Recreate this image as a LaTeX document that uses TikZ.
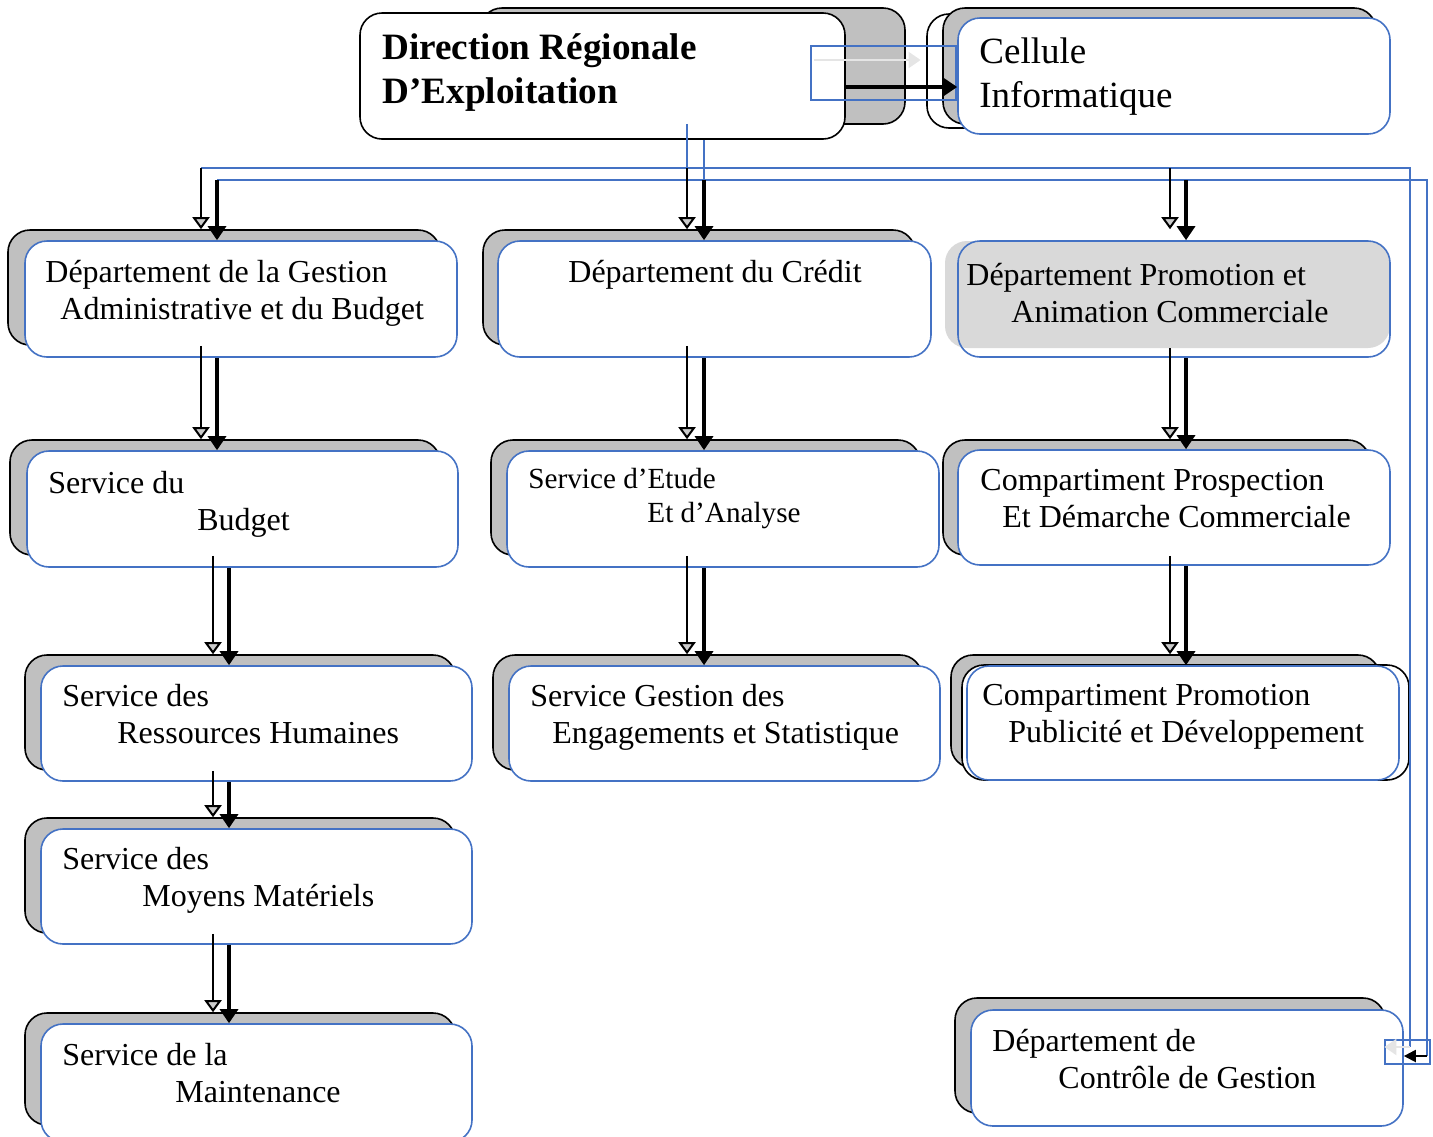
\documentclass[tikz,border=0pt]{standalone}
\usepackage{fontspec}
\setmainfont{Liberation Serif}
\usetikzlibrary{arrows.meta,fit}
\definecolor{boxblue}{HTML}{4472C4}
\definecolor{shadegray}{HTML}{C0C0C0}
\definecolor{fillgray}{HTML}{D9D9D9}

\begin{document}
\begin{tikzpicture}[x=0.5pt,y=-0.5pt,
    shbox/.style={draw,line width=0.8pt,fill=shadegray,rounded corners=11pt,inner sep=0pt},
    outbox/.style={draw,line width=0.8pt,fill=white,rounded corners=11pt,inner sep=0pt},
    frontbox/.style={draw=boxblue,line width=0.8pt,fill=white,rounded corners=11pt,inner sep=0pt},
    selbox/.style={draw=boxblue,line width=0.6pt,inner sep=0pt},
    txt/.style={anchor=north west,inner sep=0pt,align=left,font=\fontsize{16}{18.5}\selectfont},
    thinarr/.style={line width=1pt,-{Triangle[width=8.5pt,length=6pt,fill=gray!40]}},
    thickarr/.style={line width=1.6pt,-{Triangle[width=9pt,length=7pt]}},
    faintarr/.style={draw=gray!20,line width=1pt,-{Triangle[width=8pt,length=6pt]}},
    blueline/.style={draw=boxblue,line width=0.6pt}]
  \useasboundingbox (0,0) rectangle (1433,1136);

  % direction et cellule
  \node[shbox, fit={(480,8) (905,124)}] (dre-s) {};
  \node[outbox, fit={(360,13) (845,139)}] (dre) {};
  \node[txt, font=\fontsize{18.6}{22}\selectfont\bfseries] (dre-t) at (382,33)
    {Direction Régionale\\D’Exploitation};
  \node[outbox, fit={(927,14) (1370,128)}] (ci-o) {};
  \node[shbox, fit={(943,8) (1376,124)}] (ci-s) {};
  \node[frontbox, fit={(958,18) (1390,134)}] (ci) {};
  \node[txt, font=\fontsize{18.5}{22}\selectfont] (ci-t) at (979,37) {Cellule\\Informatique};

  % departements
  \node[shbox, fit={(8,230) (440,345)}] (gab-s) {};
  \node[frontbox, fit={(25,241) (457,357)}] (gab) {};
  \node[txt] (gab-t) at (45,260) {Département de la Gestion\\\hspace*{7.5pt}Administrative et du Budget};
  \node[shbox, fit={(483,230) (915,345)}] (cred-s) {};
  \node[frontbox, fit={(498,241) (931,357)}] (cred) {};
  \node[txt] (cred-t) at (568,260) {Département du Crédit};
  \node[fill=fillgray, rounded corners=11pt, inner sep=0pt, fit={(945,241) (1390,348)}] (pac-g) {};
  \node[frontbox, fill=none, fit={(958,241) (1390,357)}] (pac) {};
  \node[txt] (pac-t) at (966,263) {Département Promotion et\\\hspace*{22.5pt}Animation Commerciale};

  % services, ligne 2
  \node[shbox, fit={(10,440) (440,555)}] (bud-s) {};
  \node[frontbox, fit={(27,451) (458,567)}] (bud) {};
  \node[txt] (bud-t) at (48,471) {Service du\\\hspace*{74.5pt}Budget};
  \node[shbox, fit={(491,440) (920,555)}] (etu-s) {};
  \node[frontbox, fit={(507,451) (939,567)}] (etu) {};
  \node[txt, font=\fontsize{14.6}{17}\selectfont] (etu-t) at (528,468) {Service d’Etude\\\hspace*{59.5pt}Et d’Analyse};
  \node[shbox, fit={(943,440) (1370,555)}] (pdc-s) {};
  \node[frontbox, fit={(958,450) (1390,565)}] (pdc) {};
  \node[txt] (pdc-t) at (980,469) {Compartiment Prospection\\\hspace*{11pt}Et Démarche Commerciale};

  % ligne 3
  \node[shbox, fit={(25,655) (455,770)}] (rh-s) {};
  \node[frontbox, fit={(41,666) (472,781)}] (rh) {};
  \node[txt] (rh-t) at (62,684) {Service des\\\hspace*{27.5pt}Ressources Humaines};
  \node[shbox, fit={(493,655) (922,770)}] (ges-s) {};
  \node[frontbox, fit={(509,666) (940,781)}] (ges) {};
  \node[txt] (ges-t) at (530,684) {Service Gestion des\\\hspace*{11pt}Engagements et Statistique};
  \node[shbox, fit={(951,655) (1380,768)}] (ppd-s) {};
  \node[outbox, fit={(962,665) (1409,780)}] (ppd-o) {};
  \node[frontbox, fit={(967,666) (1399,780)}] (ppd) {};
  \node[txt] (ppd-t) at (982,684) {Compartiment Promotion\\\hspace*{13pt}Publicité et Développement};

  % lignes 4 et 5
  \node[shbox, fit={(25,818) (455,933)}] (mm-s) {};
  \node[frontbox, fit={(41,829) (472,944)}] (mm) {};
  \node[txt] (mm-t) at (62,847) {Service des\\\hspace*{40pt}Moyens Matériels};
  \node[shbox, fit={(25,1013) (455,1125)}] (mnt-s) {};
  \node[frontbox, fit={(41,1024) (472,1142)}] (mnt) {};
  \node[txt] (mnt-t) at (62,1043) {Service de la\\\hspace*{56.5pt}Maintenance};
  \node[shbox, fit={(955,998) (1385,1113)}] (cdg-s) {};
  \node[frontbox, fit={(971,1010) (1403,1126)}] (cdg) {};
  \node[txt] (cdg-t) at (992,1029) {Département de\\\hspace*{33pt}Contrôle de Gestion};

  % colonnes et bus
  \coordinate (a1) at (201,0);  \coordinate (a2) at (217,0);
  \coordinate (a3) at (213,0);  \coordinate (a4) at (229,0);
  \coordinate (b1) at (687,0);  \coordinate (b2) at (704,0);
  \coordinate (c1) at (1170,0); \coordinate (c2) at (1186,0);
  \coordinate (r1) at (1410,0); \coordinate (r2) at (1427,0);
  \coordinate (bus1) at (0,168); \coordinate (bus2) at (0,180);
  \coordinate (cdgin) at (0,1056); \coordinate (cdgfaint) at (0,1047);
  \coordinate (ciin) at (0,87);

  \node[selbox, fit={(811,46) (956,100)}] (cisel) {};
  \node[selbox, fit={(1385,1040) (1430,1064)}] (cdgsel) {};

  \draw[blueline] ([yshift=8pt]b1 |- dre.south) -- (b1 |- bus1);
  \draw[blueline] (b2 |- dre.south) -- (b2 |- bus2);
  \draw[blueline] (a1 |- bus1) -- (r1 |- bus1) -- (r1 |- cdgfaint);
  \draw[blueline] (a2 |- bus2) -- (r2 |- bus2) -- (r2 |- cdgin);

  \draw[faintarr] ([shift={(2pt,6.5pt)}]cisel.west) -- ([shift={(-18pt,6.5pt)}]cisel.east);
  \draw[thickarr] (dre.east |- ciin) -- (ci.west |- ciin);
  \draw[faintarr] (r1 |- cdgfaint) -- (cdgsel.west |- cdgfaint);
  \draw[line width=1pt,-{Triangle[width=6pt,length=6pt]}] (r2 |- cdgin) -- (cdg.east |- cdgin);

  % fleches vers les departements
  \draw[thinarr] (a1 |- bus1) -- (a1 |- gab-s.north);
  \draw[thickarr] (a2 |- bus2) -- (a2 |- gab.north);
  \draw[thinarr] (b1 |- bus1) -- (b1 |- cred-s.north);
  \draw[thickarr] (b2 |- bus2) -- (b2 |- cred.north);
  \draw[thinarr] (c1 |- bus1) -- ([yshift=5.5pt]c1 |- pac.north);
  \draw[thickarr] (c2 |- bus2) -- (c2 |- pac.north);

  % ligne 1 vers ligne 2
  \draw[thinarr] (a1 |- gab-s.south) -- (a1 |- bud-s.north);
  \draw[thickarr] (a2 |- gab.south) -- (a2 |- bud.north);
  \draw[thinarr] (b1 |- cred-s.south) -- (b1 |- etu-s.north);
  \draw[thickarr] (b2 |- cred.south) -- (b2 |- etu.north);
  \draw[thinarr] (c1 |- pac-g.south) -- (c1 |- pdc-s.north);
  \draw[thickarr] (c2 |- pac.south) -- (c2 |- pdc.north);

  % ligne 2 vers ligne 3
  \draw[thinarr] (a3 |- bud-s.south) -- (a3 |- rh-s.north);
  \draw[thickarr] (a4 |- bud.south) -- (a4 |- rh.north);
  \draw[thinarr] (b1 |- etu-s.south) -- (b1 |- ges-s.north);
  \draw[thickarr] (b2 |- etu.south) -- (b2 |- ges.north);
  \draw[thinarr] (c1 |- pdc-s.south) -- (c1 |- ppd-s.north);
  \draw[thickarr] (c2 |- pdc.south) -- (c2 |- ppd.north);

  % colonne de gauche
  \draw[thinarr] (a3 |- rh-s.south) -- (a3 |- mm-s.north);
  \draw[thickarr] (a4 |- rh.south) -- (a4 |- mm.north);
  \draw[thinarr] (a3 |- mm-s.south) -- (a3 |- mnt-s.north);
  \draw[thickarr] (a4 |- mm.south) -- (a4 |- mnt.north);
\end{tikzpicture}
\end{document}
